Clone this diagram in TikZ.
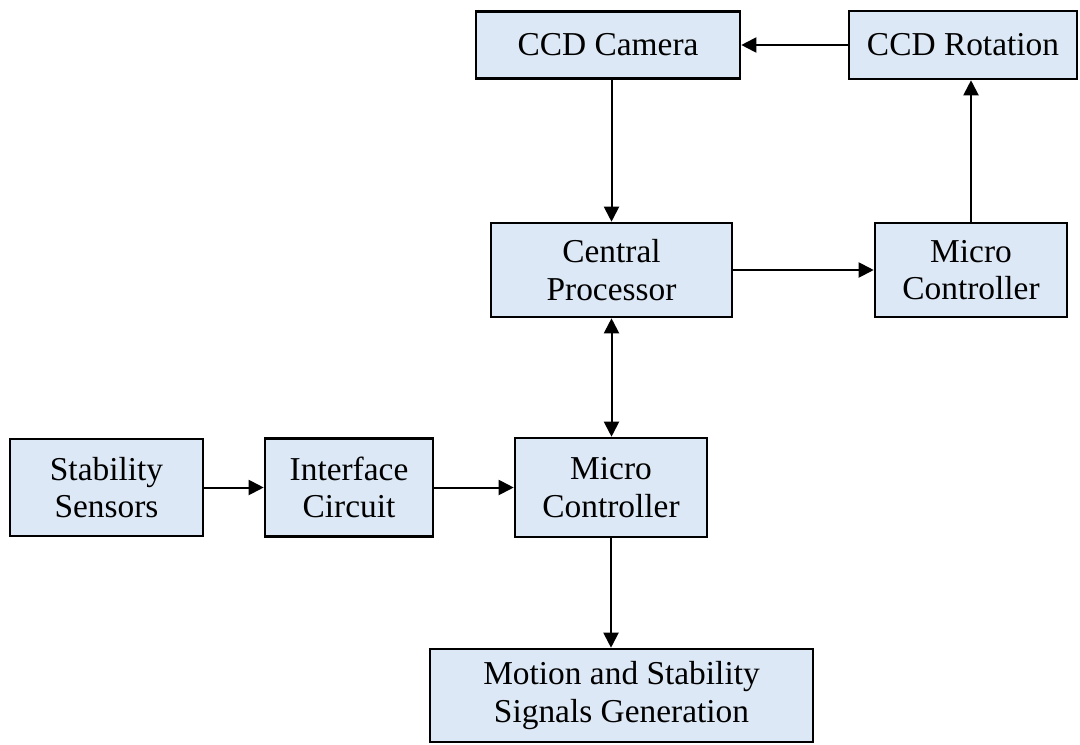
\documentclass[tikz,border=0pt]{standalone}
\usepackage{fontspec}
\setmainfont{Liberation Serif}
\usepackage{tikz}
\usepackage{xcolor}
\usetikzlibrary{arrows.meta,positioning,calc}
\definecolor{ink}{HTML}{000000}
\definecolor{tissue}{HTML}{DCE8F5}
\tikzset{
  block/.style={draw=ink,fill=tissue,line width=1.3pt,
                align=center,inner sep=2pt,
                font=\fontsize{16.7}{18.7}\selectfont},
  sigarr/.style={-{Triangle[length=7.5pt,width=7.5pt]},line width=1pt,color=ink},
  bidarr/.style={{Triangle[length=7.5pt,width=7.5pt]}-{Triangle[length=7.5pt,width=7.5pt]},
                 line width=1pt,color=ink}
}

\begin{document}
\begin{tikzpicture}[x=0.5pt,y=-0.5pt]
      \useasboundingbox (0,0) rectangle (1080,744);
      \node[block,minimum width=132pt,minimum height=33.5pt] (cam) at (608,45) {CCD Camera};
      \node[block,minimum width=114pt,minimum height=34pt] (rot) at (963,45) {CCD Rotation};
      \node[block,minimum width=120.5pt,minimum height=47pt] (cpu) at (611.5,270) {Central\\Processor};
      \node[block,minimum width=96pt,minimum height=47pt] (mcr) at (971,270) {Micro\\Controller};
      \node[block,minimum width=96.5pt,minimum height=48.5pt] (stab) at (106.5,487.5) {Stability\\Sensors};
      \node[block,minimum width=84pt,minimum height=49pt] (intf) at (349,487.5) {Interface\\Circuit};
      \node[block,minimum width=96pt,minimum height=49.5pt] (mcm) at (611,487.5) {Micro\\Controller};
      \node[block,minimum width=191.5pt,minimum height=46.5pt] (motion) at (621.5,695.5)
        {Motion and Stability\\Signals Generation};
      \draw[sigarr] (rot) -- (cam);
      \draw[sigarr] (cam.south -| cpu) -- (cpu.north);
      \draw[sigarr] (cpu) -- (mcr);
      \draw[sigarr] (mcr.north) -- (mcr.north |- rot.south);
      \draw[bidarr] (cpu.south) -- (cpu.south |- mcm.north);
      \draw[sigarr] (stab) -- (intf);
      \draw[sigarr] (intf) -- (mcm);
      \draw[sigarr] (mcm.south) -- (mcm.south |- motion.north);
    \end{tikzpicture}
\end{document}
